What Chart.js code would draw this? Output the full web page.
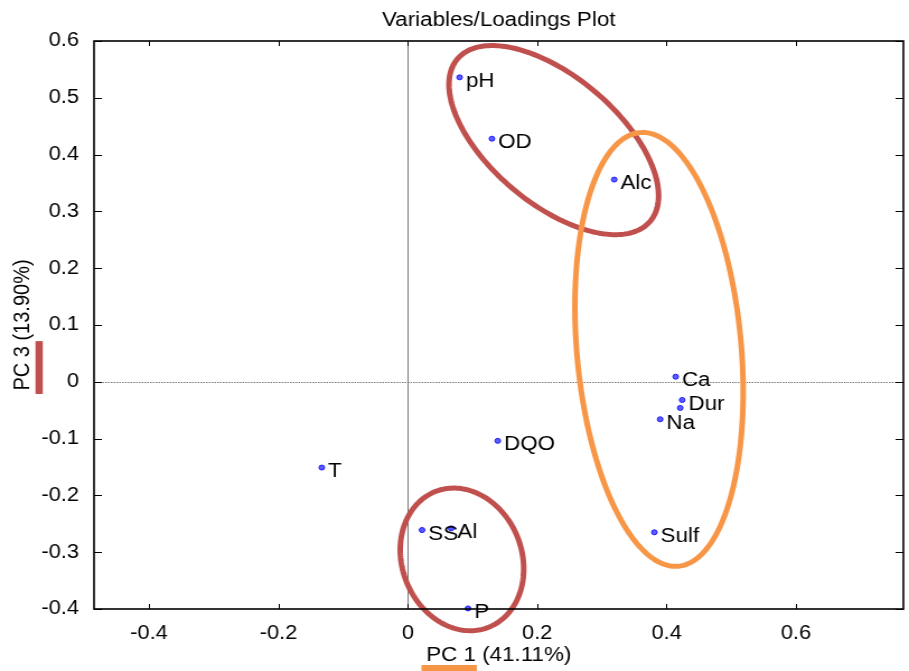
<!DOCTYPE html>
<html><head><meta charset="utf-8">
<script src="https://cdn.jsdelivr.net/npm/chart.js@4.4.0/dist/chart.umd.min.js"></script>
<style>
html,body{margin:0;padding:0;background:#fff;overflow:hidden;}
#wrap{width:909px;height:671px;overflow:hidden;position:relative;background:#fff;}
#c{position:absolute;left:0;top:0;transform:scaleX(1.11946);transform-origin:0 0;}
</style></head><body>
<div id="wrap"><canvas id="c" width="812" height="671"></canvas></div>
<script>
// ---- data ----
const variableNames = ['pH','OD','Alc','Ca','Dur','','Na','DQO','T','SS','Al','Sulf','P'];
const pc1Loadings = [0.080, 0.130, 0.319, 0.414, 0.424, 0.421, 0.390, 0.139, -0.133, 0.022, 0.067, 0.381, 0.093];
const pc3Loadings = [0.536, 0.428, 0.356, 0.009, -0.032, -0.046, -0.066, -0.104, -0.151, -0.261, -0.258, -0.265, -0.399];
const xTickValues = [-0.4, -0.2, 0, 0.2, 0.4, 0.6];
const yTickValues = [-0.4, -0.3, -0.2, -0.1, 0, 0.1, 0.2, 0.3, 0.4, 0.5, 0.6];
const titleText = 'Variables/Loadings Plot';
const xAxisTitle = 'PC 1 (41.11%)';
const yAxisTitle = 'PC 3 (13.90%)';
// group ellipses (data units): centre and two conjugate semi-axis vectors
const groupCenters = [[0.2256, 0.4255], [0.3883, 0.057], [0.0837, -0.3127]];
const groupAxisU = [[0.1494, -0.1423], [0.0297, -0.3817], [0.0422, -0.1190]];
const groupAxisV = [[-0.0626, -0.0864], [-0.1266, -0.0130], [-0.0856, -0.0400]];

// ---- styles ----
const FONT = "'Liberation Sans', Arial, Helvetica, sans-serif";
const groupColors = ['#c0504d', '#f79646', '#c0504d'];

const overlay = {
  id: 'overlay',
  beforeDatasetsDraw(chart) {
    const {ctx, chartArea: a, scales: {x, y}} = chart;
    ctx.save();
    ctx.strokeStyle = '#7a7a7a';
    ctx.lineWidth = 1;
    const x0 = Math.round(x.getPixelForValue(0)) + 0.5;
    ctx.beginPath(); ctx.moveTo(x0, a.top); ctx.lineTo(x0, a.bottom); ctx.stroke();
    ctx.setLineDash([1.5, 1]);
    const y0 = Math.round(y.getPixelForValue(0)) + 0.5;
    ctx.beginPath(); ctx.moveTo(a.left, y0); ctx.lineTo(a.right, y0); ctx.stroke();
    ctx.restore();
  },
  afterDatasetsDraw(chart) {
    const {ctx, chartArea: a, scales: {x, y}} = chart;
    ctx.save();
    // point labels
    const meta = chart.getDatasetMeta(0);
    ctx.font = '20px ' + FONT;
    ctx.fillStyle = '#000';
    ctx.textAlign = 'left';
    ctx.textBaseline = 'alphabetic';
    meta.data.forEach((pt, i) => {
      if (variableNames[i]) ctx.fillText(variableNames[i], pt.x + 5.6, pt.y + 9.6);
    });
    // group ellipses
    groupCenters.forEach((c, k) => {
      ctx.beginPath();
      const N = 200;
      for (let s = 0; s <= N; s++) {
        const t = s / N * 2 * Math.PI;
        const vx = c[0] + groupAxisU[k][0] * Math.cos(t) + groupAxisV[k][0] * Math.sin(t);
        const vy = c[1] + groupAxisU[k][1] * Math.cos(t) + groupAxisV[k][1] * Math.sin(t);
        const px = x.getPixelForValue(vx), py = y.getPixelForValue(vy);
        if (s === 0) ctx.moveTo(px, py); else ctx.lineTo(px, py);
      }
      ctx.closePath();
      ctx.strokeStyle = groupColors[k];
      ctx.lineWidth = 5;
      ctx.stroke();
    });
    // axes box
    ctx.strokeStyle = '#000';
    ctx.lineWidth = 1.6;
    ctx.strokeRect(a.left, a.top, a.right - a.left, a.bottom - a.top);
    // inward ticks
    ctx.lineWidth = 1;
    const seg = (x1, y1, x2, y2) => { ctx.beginPath(); ctx.moveTo(x1, y1); ctx.lineTo(x2, y2); ctx.stroke(); };
    xTickValues.forEach(v => {
      const px = Math.round(x.getPixelForValue(v)) + 0.5;
      seg(px, a.bottom, px, a.bottom - 5);
      seg(px, a.top, px, a.top + 5);
    });
    yTickValues.forEach(v => {
      const py = Math.round(y.getPixelForValue(v)) + 0.5;
      seg(a.left, py, a.left + 7, py);
      seg(a.right, py, a.right - 7, py);
    });
    ctx.restore();
  },
  afterDraw(chart) {
    const {ctx, scales: {x, y}} = chart;
    ctx.save();
    // orange underline of the PC 1 part of the x title
    ctx.font = '20px ' + FONT;
    const xw = ctx.measureText(xAxisTitle).width;
    const xStart = (x.left + x.right) / 2 - xw / 2;
    const xPart = ctx.measureText(xAxisTitle.split(' (')[0]).width;
    ctx.fillStyle = '#f79646';
    ctx.fillRect(xStart - 4.2, 665, xPart + 5, 6);
    // red bar beside the PC 3 part of the y title
    ctx.font = '20px ' + FONT;
    const yw = ctx.measureText(yAxisTitle).width;
    const yStart = (y.top + y.bottom) / 2 + yw / 2;
    const yPart = ctx.measureText(yAxisTitle.split(' (')[0]).width;
    const titleX = y.left + 12 + 8.5;
    ctx.fillStyle = '#c0504d';
    ctx.fillRect(titleX + 11.2, yStart - yPart - 5, 6.5, yPart + 8.4);
    ctx.restore();
  }
};

new Chart(document.getElementById('c'), {
  type: 'scatter',
  data: {
    datasets: [{
      data: pc1Loadings.map((v, i) => ({x: v, y: pc3Loadings[i]})),
      pointRadius: 2.5,
      pointBackgroundColor: '#5c5cff',
      pointBorderColor: '#1a1aff',
      pointBorderWidth: 1,
      showLine: false,
      clip: false
    }]
  },
  options: {
    responsive: false,
    devicePixelRatio: 1,
    animation: false,
    layout: {padding: 0},
    plugins: {
      legend: {display: false},
      tooltip: {enabled: false},
      title: {
        display: true, text: titleText, color: '#000', fullSize: false,
        font: {family: FONT, size: 20, weight: 'normal'},
        padding: {top: 8, bottom: 9}
      }
    },
    scales: {
      x: {
        type: 'linear', position: 'bottom', min: -0.485, max: 0.766,
        afterBuildTicks: s => { s.ticks = xTickValues.map(v => ({value: v})); },
        afterFit: s => { s.height = 62; },
        grid: {display: false}, border: {display: false},
        ticks: {padding: 4.5, color: '#000', font: {family: FONT, size: 19.5},
                callback: v => String(Math.round(v * 10) / 10)},
        title: {display: true, text: xAxisTitle, color: '#000',
                font: {family: FONT, size: 20}, padding: {top: 0, bottom: 4}}
      },
      y: {
        type: 'linear', position: 'left', min: -0.4, max: 0.6,
        afterBuildTicks: s => { s.ticks = yTickValues.map(v => ({value: v})); },
        afterFit: s => { s.width = 84; },
        grid: {display: false}, border: {display: false},
        ticks: {padding: 5.5, color: '#000', font: {family: FONT, size: 19.5},
                callback: v => String(Math.round(v * 10) / 10)},
        title: {display: true, text: yAxisTitle, color: '#000',
                font: {family: FONT, size: 20}, padding: {top: 8.5, bottom: 0}}
      }
    }
  },
  plugins: [overlay]
});
</script>
</body></html>
